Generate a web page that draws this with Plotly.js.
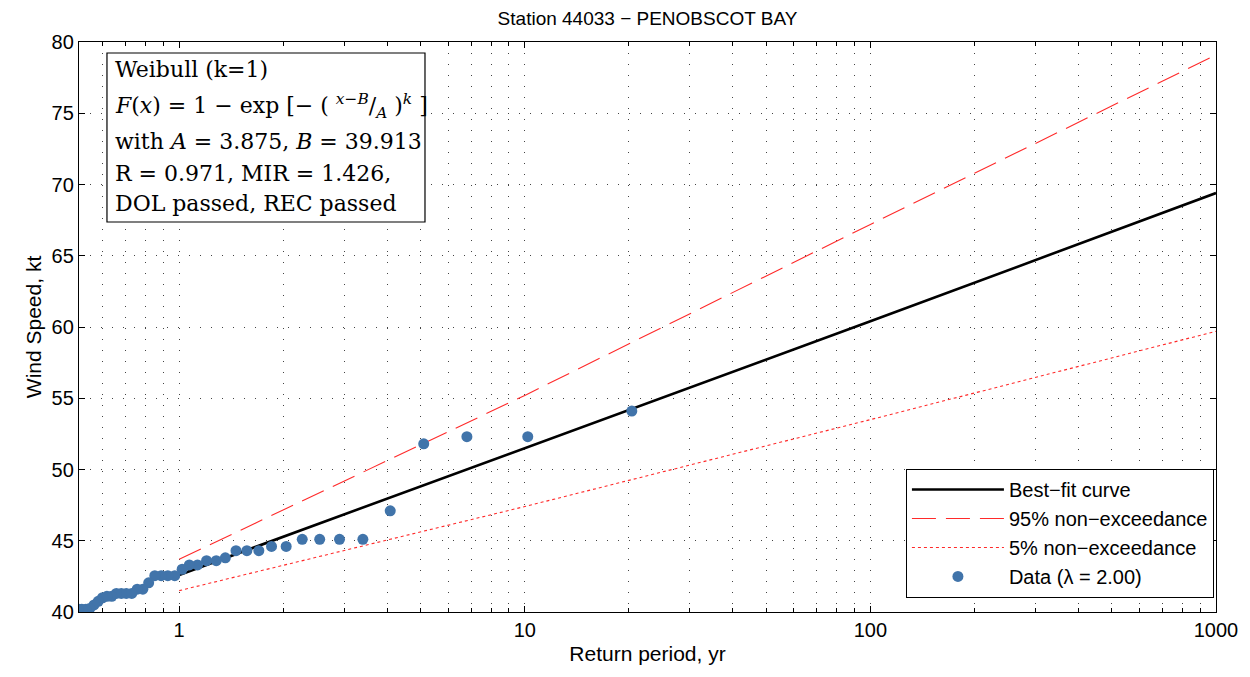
<!DOCTYPE html>
<html>
<head>
<meta charset="utf-8">
<script src="https://cdn.plot.ly/plotly-3.0.1.min.js"></script>
<style>html,body{margin:0;padding:0;background:#fff;}#chart{width:1250px;height:677px;}</style>
</head>
<body>
<div id="chart"></div>
<script>
// Return periods (yr) and wind speeds (kt) of the ranked data
var dataPeriod = [20.4, 10.2, 6.8, 5.1, 4.08, 3.40, 2.91, 2.55, 2.27, 2.04, 1.85, 1.70, 1.57, 1.46, 1.36, 1.28, 1.20, 1.13, 1.07, 1.02,
                  0.971, 0.927, 0.887, 0.850, 0.816, 0.785, 0.756, 0.729, 0.703, 0.680, 0.658, 0.638, 0.618, 0.600, 0.583, 0.567, 0.551, 0.537, 0.523, 0.510];
var dataSpeed = [54.1, 52.3, 52.3, 51.8, 47.1, 45.1, 45.1, 45.1, 45.1, 44.6, 44.6, 44.3, 44.3, 44.3, 43.8, 43.6, 43.6, 43.3, 43.3, 43.0,
                 42.55, 42.55, 42.55, 42.55, 42.05, 41.6, 41.6, 41.3, 41.3, 41.3, 41.3, 41.1, 41.1, 41.0, 40.75, 40.5, 40.25, 40.2, 40.2, 40.2];
// Curves (read at decades)
var curvePeriod = [1, 10, 100, 1000];
var bestFit = [42.6, 51.5, 60.4, 69.4];
var upper95 = [43.7, 55.2, 67.2, 79.1];
var lower5 = [41.5, 47.4, 53.5, 59.7];
var xTickVals = [1, 10, 100, 1000];
var xTickText = ['1', '10', '100', '1000'];
// Fit summary text lines
var infoLines = [
  'Weibull (k=1)',
  '<i>F</i>(<i>x</i>) = 1 \u2212 exp [\u2212 ( <sup><i>x</i>\u2212<i>B</i></sup>/<sub><i>A</i></sub> )<sup><i>k</i></sup> ]',
  'with <i>A</i> = 3.875, <i>B</i> = 39.913',
  'R = 0.971, MIR = 1.426,',
  'DOL passed, REC passed'
];

var minorVals = [];
[0.1, 1, 10, 100].forEach(function (d) {
  for (var m = 2; m <= 9; m++) { var v = +(m * d).toPrecision(3); if (v > 0.51 && v < 1000) minorVals.push(v); }
});

var traces = [
  {x: curvePeriod, y: bestFit, mode: 'lines', name: 'Best\u2212fit curve',
   line: {color: '#000000', width: 2.6}},
  {x: curvePeriod, y: upper95, mode: 'lines', name: '95% non\u2212exceedance',
   line: {color: '#ff2a2a', width: 1.1, dash: '24px,10px'}},
  {x: curvePeriod, y: lower5, mode: 'lines', name: '5% non\u2212exceedance',
   line: {color: '#ff2a2a', width: 1.1, dash: '3px,3px'}},
  {x: dataPeriod, y: dataSpeed, mode: 'markers', name: 'Data (\u03bb = 2.00)',
   marker: {color: '#4174aa', size: 11}, cliponaxis: true}
];

// Info box layout (paper coordinates)
var boxX0 = 0.0246, boxX1 = 0.3043, boxY0 = 0.6842, boxY1 = 0.9807;
var lineY = [0.952, 0.888, 0.825, 0.770, 0.716];
var annotations = infoLines.map(function (t, i) {
  return {xref: 'paper', yref: 'paper', x: 0.0299, y: lineY[i], xanchor: 'left', yanchor: 'middle',
          align: 'left', showarrow: false, text: t,
          font: {family: 'DejaVu Serif, Liberation Serif, serif', size: 22, color: '#000'}};
});

var gridDash = '1px,10px';
var sans = 'Liberation Sans, Arial, sans-serif';
var layout = {
  width: 1250, height: 677,
  margin: {l: 79, r: 34, t: 42, b: 65},
  paper_bgcolor: '#ffffff', plot_bgcolor: '#ffffff',
  font: {family: sans, color: '#000', size: 20},
  showlegend: true,
  title: {text: 'Station 44033 \u2212 PENOBSCOT BAY', x: 0.518, xanchor: 'center', y: 0.982, yanchor: 'top',
          font: {size: 19, family: sans}},
  xaxis: {
    type: 'log', range: [Math.log10(0.513), 3],
    tickmode: 'array', tickvals: xTickVals, ticktext: xTickText,
    ticks: 'inside', ticklen: 6, tickwidth: 1, tickcolor: '#000',
    showline: true, linecolor: '#000', linewidth: 1.2, mirror: 'ticks',
    showgrid: true, gridcolor: '#444', gridwidth: 1, griddash: gridDash,
    zeroline: false,
    minor: {tickmode: 'array', tickvals: minorVals, ticks: 'inside', ticklen: 4, tickcolor: '#000',
            showgrid: true, gridcolor: '#444', gridwidth: 1, griddash: gridDash},
    title: {text: 'Return period, yr', font: {size: 21}, standoff: 6},
    tickfont: {size: 20}
  },
  yaxis: {
    range: [40, 80], dtick: 5, tick0: 40,
    ticks: 'inside', ticklen: 6, tickwidth: 1, tickcolor: '#000',
    showline: true, linecolor: '#000', linewidth: 1.2, mirror: 'ticks',
    showgrid: true, gridcolor: '#444', gridwidth: 1, griddash: gridDash,
    zeroline: false,
    title: {text: 'Wind Speed, kt', font: {size: 21}, standoff: 4},
    tickfont: {size: 20}
  },
  legend: {
    x: 0.998, xanchor: 'right', y: 0.025, yanchor: 'bottom',
    bgcolor: '#ffffff', bordercolor: '#000', borderwidth: 1.2,
    font: {size: 20, family: sans},
    itemwidth: 92, tracegroupgap: 0
  },
  shapes: [{type: 'rect', xref: 'paper', yref: 'paper', x0: boxX0, x1: boxX1, y0: boxY0, y1: boxY1,
            line: {color: '#000', width: 1.2}, fillcolor: '#ffffff', layer: 'above'}],
  annotations: annotations
};

Plotly.newPlot('chart', traces, layout, {displayModeBar: false, staticPlot: true});
</script>
</body>
</html>
